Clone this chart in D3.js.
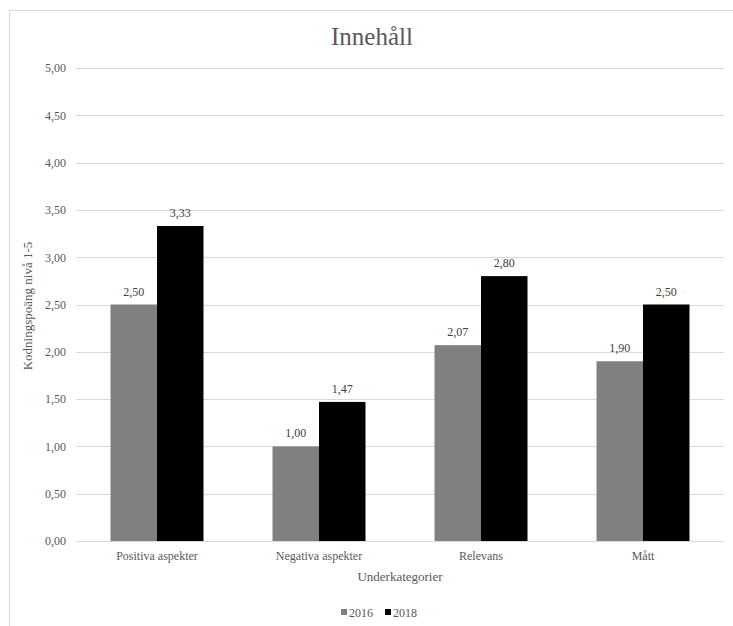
<!DOCTYPE html>
<html>
<head>
<meta charset="utf-8">
<script src="https://cdn.jsdelivr.net/npm/d3@7"></script>
<style>
  html, body { margin: 0; padding: 0; background: #fff; }
  svg { display: block; }
  svg text { font-family: 'Liberation Serif', 'Tinos', 'Times New Roman', 'Nimbus Roman', 'DejaVu Serif', serif !important; }
</style>
</head>
<body>
<svg id="chart" width="733" height="626"></svg>
<script>
// Category and series data
const categories = ["Positiva aspekter", "Negativa aspekter", "Relevans", "Mått"];
const seriesNames = ["2016", "2018"];
const values2016 = [2.50, 1.00, 2.07, 1.90];
const values2018 = [3.33, 1.47, 2.80, 2.50];
const yTicks = [0, 0.5, 1, 1.5, 2, 2.5, 3, 3.5, 4, 4.5, 5];
const seriesColors = ["#808080", "#000000"];

const series = [values2016, values2018];
const fmt = v => d3.format(".2f")(v).replace(".", ",");

const svg = d3.select("#chart");

// Outer chart frame
svg.append("rect")
  .attr("x", 9.5).attr("y", 10.5)
  .attr("width", 800).attr("height", 700)
  .attr("fill", "none").attr("stroke", "#d9d9d9").attr("stroke-width", 1);

const plot = { left: 76, right: 724, top: 68, bottom: 541 };

const x = d3.scaleBand()
  .domain(categories)
  .range([plot.left, plot.right])
  .paddingInner(0.426)
  .paddingOuter(0.213);

const xs = d3.scaleBand()
  .domain(seriesNames)
  .range([0, x.bandwidth()])
  .padding(0);

const y = d3.scaleLinear().domain([0, 5]).range([plot.bottom, plot.top]);

// Horizontal gridlines
svg.append("g")
  .selectAll("line")
  .data(yTicks)
  .join("line")
  .attr("x1", plot.left).attr("x2", plot.right)
  .attr("y1", d => Math.round(y(d)) + 0.5)
  .attr("y2", d => Math.round(y(d)) + 0.5)
  .attr("stroke", "#d9d9d9").attr("stroke-width", 1);

// Y axis tick labels
const yAxis = d3.axisLeft(y).tickValues(yTicks).tickFormat(fmt).tickSize(0).tickPadding(10);
const gy = svg.append("g").attr("transform", `translate(${plot.left},0)`).call(yAxis);
gy.select(".domain").remove();
gy.selectAll("text")
  .attr("font-size", 12).attr("fill", "#595959");

// Bars
const groups = svg.append("g")
  .selectAll("g")
  .data(categories)
  .join("g")
  .attr("transform", d => `translate(${x(d)},0)`);

groups.selectAll("rect")
  .data((c, i) => seriesNames.map((s, j) => ({ s, v: series[j][i], j })))
  .join("rect")
  .attr("x", d => xs(d.s))
  .attr("width", xs.bandwidth())
  .attr("y", d => y(d.v))
  .attr("height", d => y(0) - y(d.v))
  .attr("fill", d => seriesColors[d.j]);

// Value labels
groups.selectAll("text")
  .data((c, i) => seriesNames.map((s, j) => ({ s, v: series[j][i], j })))
  .join("text")
  .attr("x", d => xs(d.s) + xs.bandwidth() / 2)
  .attr("y", d => y(d.v) - 9)
  .attr("text-anchor", "middle")
  .attr("font-size", 12)
  .attr("fill", "#404040")
  .text(d => fmt(d.v));

// Baseline
svg.append("line")
  .attr("x1", plot.left).attr("x2", plot.right)
  .attr("y1", Math.round(y(0)) + 0.5).attr("y2", Math.round(y(0)) + 0.5)
  .attr("stroke", "#d9d9d9");

// Category labels
const xAxis = d3.axisBottom(x).tickSize(0).tickPadding(10);
const gx = svg.append("g").attr("transform", `translate(0,${plot.bottom})`).call(xAxis);
gx.select(".domain").remove();
gx.selectAll("text")
  .attr("font-size", 12).attr("fill", "#595959");

// Title
svg.append("text")
  .attr("x", 372).attr("y", 45)
  .attr("text-anchor", "middle")
  .attr("font-size", 25).attr("fill", "#595959")
  .text("Innehåll");

// Axis titles
svg.append("text")
  .attr("x", (plot.left + plot.right) / 2).attr("y", 581)
  .attr("text-anchor", "middle")
  .attr("font-size", 13).attr("fill", "#595959")
  .text("Underkategorier");

svg.append("text")
  .attr("transform", `translate(32,306) rotate(-90)`)
  .attr("text-anchor", "middle")
  .attr("font-size", 13).attr("fill", "#595959")
  .text("Kodningspoäng nivå 1-5");

// Legend
const legend = svg.append("g").attr("transform", "translate(341,617)");
const legendItems = legend.selectAll("g")
  .data(seriesNames)
  .join("g")
  .attr("transform", (d, i) => `translate(${i * 44},0)`);
legendItems.append("rect")
  .attr("x", 0).attr("y", -8)
  .attr("width", 6).attr("height", 6)
  .attr("fill", (d, i) => seriesColors[i]);
legendItems.append("text")
  .attr("x", 8).attr("y", 0)
  .attr("font-size", 12).attr("fill", "#595959")
  .text(d => d);
</script>
</body>
</html>
